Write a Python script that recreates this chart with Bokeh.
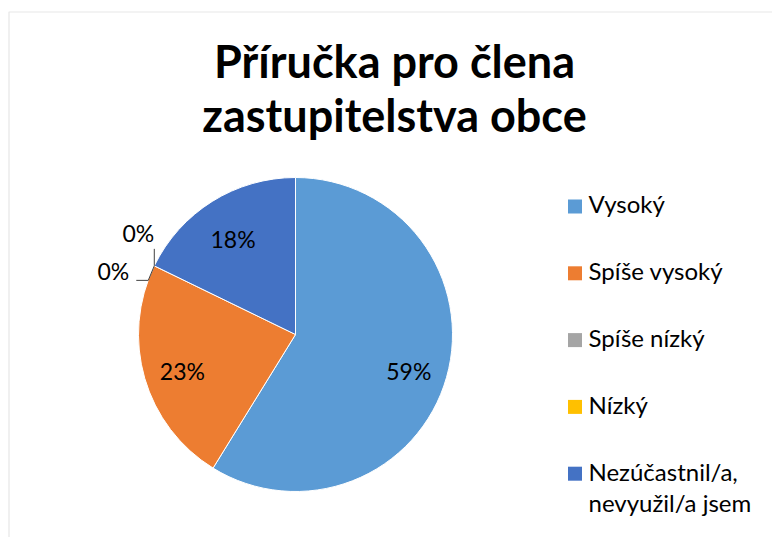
import numpy as np
from bokeh.plotting import figure
from bokeh.models import Range1d, ColumnDataSource, BoxAnnotation
from bokeh.core.properties import value
from bokeh.embed import file_html
from bokeh.resources import INLINE

# ---- data ----
title_lines = ["Příručka pro člena", "zastupitelstva obce"]
categories = ["Vysoký", "Spíše vysoký", "Spíše nízký", "Nízký", "Nezúčastnil/a,\nnevyužil/a jsem"]
shares = [58.8, 23.4, 0.0, 0.0, 17.8]
colors = ["#5B9BD5", "#ED7D31", "#A5A5A5", "#FFC000", "#4472C4"]

W, H = 772, 537
FONT = "Lato"


def Y(py):
    return H - py


p = figure(width=W, height=H, x_range=Range1d(0, W), y_range=Range1d(0, H),
           output_backend="svg", toolbar_location=None, min_border=0)
p.axis.visible = False
p.grid.visible = False
p.outline_line_color = None
p.background_fill_color = "white"
p.border_fill_color = "white"

# chart frame (cropped at right/bottom)
p.add_layout(BoxAnnotation(left=8.5, right=W + 50, top=Y(11.5), bottom=-50,
                           fill_alpha=0, line_color="#ADADAD", line_width=1.2))

# ---- title ----
TS = 45
p.text(x=[394, 394], y=[Y(78 - 0.4 * TS), Y(132 - 0.4 * TS)], text=title_lines,
       text_font=value(FONT), text_font_style="bold", text_font_size=f"{TS}px",
       text_align="center", text_baseline="alphabetic", text_color="#000000")

# ---- pie ----
cx, cy, R = 295, Y(334), 157
vals = np.array(shares, dtype=float)
frac = vals / vals.sum()
cum = np.concatenate([[0.0], np.cumsum(frac)])
start = np.pi / 2 - 2 * np.pi * cum[1:]
end = np.pi / 2 - 2 * np.pi * cum[:-1]
nz = vals > 0

src = ColumnDataSource(dict(start=start[nz], end=end[nz],
                            color=[c for c, k in zip(colors, nz) if k]))
p.wedge(x=cx, y=cy, radius=R, start_angle="start", end_angle="end",
        fill_color="color", line_color="white", line_width=1, source=src)

# inside labels
mid = np.pi / 2 - 2 * np.pi * (cum[:-1] + frac / 2)
rl = 0.75 * R
lx = cx + rl * np.cos(mid)
ly = cy + rl * np.sin(mid) - 4
labels = [f"{int(round(s))}%" for s in shares]
p.text(x=list(lx[nz]), y=list(ly[nz]), text=[l for l, k in zip(labels, nz) if k],
       text_font=value(FONT), text_font_size="23px", text_align="center",
       text_baseline="middle", text_color="#000000")

# zero-value labels with leader lines
zi = [i for i in range(len(vals)) if not nz[i]]
theta = np.pi / 2 - 2 * np.pi * cum[zi[0]]
bx, by = cx + R * np.cos(theta), cy + R * np.sin(theta)
# lower label (first zero slice)
p.line(x=[bx, bx - 6, bx - 18], y=[by, by - 14.5, by - 14.5], line_color="#404040", line_width=1)
p.text(x=[bx - 41], y=[by - 5], text=[labels[zi[0]]], text_font=value(FONT),
       text_font_size="23px", text_align="center", text_baseline="middle", text_color="#000000")
# upper label (second zero slice)
p.line(x=[bx, bx], y=[by, by + 17], line_color="#404040", line_width=1)
p.text(x=[bx - 16], y=[by + 33], text=[labels[zi[1]]], text_font=value(FONT),
       text_font_size="23px", text_align="center", text_baseline="middle", text_color="#000000")

# ---- legend ----
LS = 24
leg_y0, leg_dy = 206, 66.8
sq_x, txt_x = 574.5, 588
sq_y = [Y(leg_y0 + i * leg_dy) for i in range(len(categories))]
p.rect(x=[sq_x] * len(categories), y=sq_y, width=14, height=14,
       fill_color=colors, line_color=None)
tx, ty, tt = [], [], []
for i, cat in enumerate(categories):
    for j, line in enumerate(cat.split("\n")):
        tx.append(txt_x)
        ty.append(Y(leg_y0 + i * leg_dy + 7 - 0.4 * LS + j * 31))
        tt.append(line)
p.text(x=tx, y=ty, text=tt, text_font=value(FONT), text_font_size=f"{LS}px",
       text_align="left", text_baseline="alphabetic", text_color="#000000")

open("out.html", "w").write(file_html(p, INLINE))
